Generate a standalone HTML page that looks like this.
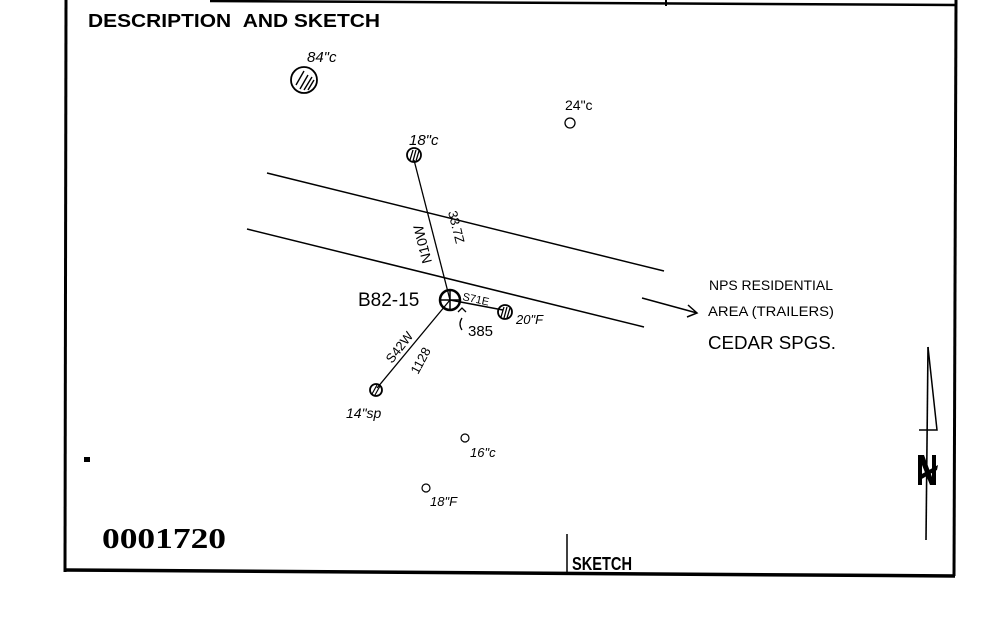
<!DOCTYPE html>
<html><head><meta charset="utf-8"><style>
html,body{margin:0;padding:0;background:#fff;}
svg{display:block;}
.h{font-family:"Liberation Sans",sans-serif;font-weight:bold;}
.s{font-family:"Liberation Sans",sans-serif;}
</style></head><body>
<svg width="999" height="638" viewBox="0 0 999 638" xmlns="http://www.w3.org/2000/svg">
<rect width="999" height="638" fill="#fff"/>
<g stroke="#000" fill="none">
<line x1="66" y1="0" x2="65" y2="572" stroke-width="3"/>
<line x1="65" y1="570" x2="955" y2="576" stroke-width="3.5"/>
<line x1="956" y1="0" x2="954" y2="576" stroke-width="3"/>
<line x1="210" y1="1" x2="956" y2="5" stroke-width="2.5"/>
<line x1="666" y1="0" x2="666" y2="6" stroke-width="2"/>
<line x1="567" y1="534" x2="567" y2="572" stroke-width="1.5"/>
<line x1="267" y1="173" x2="664" y2="271" stroke-width="1.5"/>
<line x1="247" y1="229" x2="644" y2="327" stroke-width="1.5"/>
<line x1="642" y1="298" x2="697" y2="313" stroke-width="1.5"/>
<polyline points="688,305 697,313 687,317" stroke-width="1.5"/>
<line x1="414" y1="160" x2="450" y2="300" stroke-width="1.3"/>
<line x1="450" y1="300" x2="503" y2="310" stroke-width="1.5"/>
<line x1="450" y1="300" x2="377" y2="388" stroke-width="1.3"/>
<path d="M462 318 q-4 6 0 12 M458 312 l4 -4 l4 4" stroke-width="1.3"/>
<circle cx="304" cy="80" r="13" stroke-width="1.8"/>
<path d="M296 85 l8 -14 M300 89 l8 -14 M304 90 l8 -13 M308 90 l6 -10" stroke-width="1.4"/>
<circle cx="414" cy="155" r="7" stroke-width="1.8"/>
<path d="M410 160 l3 -10 M413 161 l3 -11 M416 161 l3 -10" stroke-width="1.3"/>
<circle cx="570" cy="123" r="5" stroke-width="1.3"/>
<circle cx="505" cy="312" r="7" stroke-width="1.8"/>
<path d="M501 317 l3 -10 M504 318 l3 -11 M507 318 l3 -10" stroke-width="1.3"/>
<circle cx="376" cy="390" r="6" stroke-width="1.8"/>
<path d="M372 394 l5 -9 M375 395 l5 -9" stroke-width="1.2"/>
<circle cx="465" cy="438" r="4" stroke-width="1.2"/>
<circle cx="426" cy="488" r="4" stroke-width="1.2"/>
<circle cx="450" cy="300" r="10" stroke-width="2.5"/>
<line x1="440" y1="300" x2="460" y2="300" stroke-width="1.5"/>
<line x1="450" y1="290" x2="450" y2="310" stroke-width="1.5"/>
<line x1="928" y1="347" x2="926" y2="540" stroke-width="1.6"/>
<polyline points="928,347 937,430 919,430" stroke-width="1.5"/>
</g>
<path d="M918 455 l6 0 l8 22 l0 -22 l4 0 l0 30 l-6 0 l-8 -20 l0 20 l-4 0 z" fill="#000"/>
<path d="M920 475 l18 -10 l-1 5 l-17 10 z" fill="#000"/>
<rect x="84" y="457" width="6" height="5" fill="#000"/>
<text x="88" y="27" class="h" font-size="18" textLength="292" lengthAdjust="spacingAndGlyphs">DESCRIPTION &#160;AND SKETCH</text>
<text x="572" y="570" class="h" font-size="18" textLength="60" lengthAdjust="spacingAndGlyphs">SKETCH</text>
<text x="102" y="548" font-family="Liberation Serif,serif" font-weight="bold" font-size="28" textLength="124" lengthAdjust="spacingAndGlyphs">0001720</text>
<g class="s" fill="#000">
<text x="307" y="62" font-size="15" font-style="italic">84"c</text>
<text x="409" y="145" font-size="15" font-style="italic">18"c</text>
<text x="565" y="110" font-size="14">24"c</text>
<text x="358" y="306" font-size="19">B82-15</text>
<text x="462" y="300" font-size="11" transform="rotate(12 462 300)">S71E</text>
<text x="468" y="336" font-size="15">385</text>
<text x="516" y="324" font-size="13" font-style="italic">20"F</text>
<text x="346" y="418" font-size="14" font-style="italic">14"sp</text>
<text x="470" y="457" font-size="13" font-style="italic">16"c</text>
<text x="430" y="506" font-size="13" font-style="italic">18"F</text>
<text x="0" y="0" font-size="14" transform="translate(432,262) rotate(-104)">N10W</text>
<text x="0" y="0" font-size="13" transform="translate(448,212) rotate(76)">33.7Z</text>
<text x="0" y="0" font-size="13" transform="translate(392,364) rotate(-52)">S42W</text>
<text x="0" y="0" font-size="13" transform="translate(418,375) rotate(-62)">1128</text>
<text x="709" y="290" font-size="14" textLength="124" lengthAdjust="spacingAndGlyphs">NPS RESIDENTIAL</text>
<text x="708" y="316" font-size="14" textLength="126" lengthAdjust="spacingAndGlyphs">AREA (TRAILERS)</text>
<text x="708" y="349" font-size="18" textLength="128" lengthAdjust="spacingAndGlyphs">CEDAR SPGS.</text>
</g>
</svg>
</body></html>
